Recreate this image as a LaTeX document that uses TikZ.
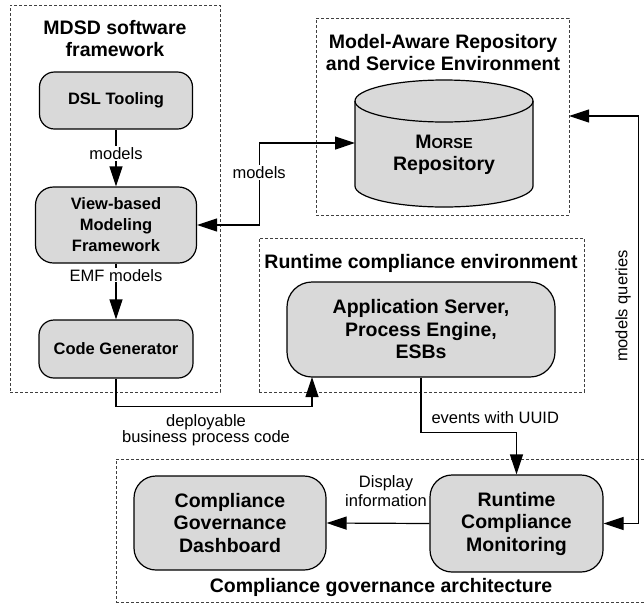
\documentclass[tikz,border=0pt]{standalone}
\usepackage{fontspec}
\setmainfont{Liberation Sans}
\usetikzlibrary{arrows.meta}
\newcommand\figfont{\fontsize{16.5}{22.5}\selectfont}
\newcommand\bigfont{\fontsize{19.5}{22.5}\selectfont}
\tikzset{
  box_/.style   = {shape=rectangle, draw, fill=black!15, line width=1.2pt, rounded corners=15pt, align=center, font=\figfont\bfseries},
  bigbox_/.style = {box_, font=\bigfont\bfseries},
  group_/.style = {shape=rectangle, draw=black!75, dash pattern=on 3pt off 2pt, line width=0.8pt},
  title_/.style = {align=center, font=\bigfont\bfseries},
  lbl_/.style   = {align=center, fill=white, inner sep=1pt},
  arr_/.style   = {draw, line width=1.2pt, -{Triangle[length=20pt,width=13pt]}},
  darr_/.style  = {draw, line width=1.2pt, {Triangle[length=20pt,width=13pt]}-{Triangle[length=20pt,width=13pt]}}
}
\begin{document}
\begin{tikzpicture}
	[
	x = 1pt, y = -1pt,
	every node/.style = {font=\figfont}
	]
	\useasboundingbox (0,0) rectangle (644,603);
	% groups
	\node [group_, minimum width=210pt, minimum height=387pt] (mdsd) at (115,198.5) {};
	\node [group_, minimum width=253pt, minimum height=197pt] (mare) at (442.5,116.5) {};
	\node [group_, minimum width=325pt, minimum height=154pt] (rce) at (421.5,315) {};
	\node [group_, minimum width=540pt, minimum height=143pt] (cga) at (386,530.5) {};
	\node [title_] (mdsdt) at (115,38.5) {MDSD software\\framework};
	\node [title_] (maret) at (443,52.5) {Model-Aware Repository\\and Service Environment};
	\node [title_] (rcet) at (421,263) {Runtime compliance environment};
	\node [title_] (cgat) at (381,587) {Compliance governance architecture};
	% repository cylinder
	\draw [fill=black!15, line width=1.2pt] (355,101) -- (355,186)
		arc [start angle=180, end angle=0, x radius=89, y radius=21] -- (533,101)
		arc [start angle=0, end angle=-180, x radius=89, y radius=21] -- cycle;
	\draw [line width=1.2pt] (355,101) arc [start angle=180, end angle=0, x radius=89, y radius=21];
	\node [title_] (repo) at (444,155) {M{\fontsize{14.5}{14.5}\selectfont ORSE}\\Repository};
	\coordinate (repoin) at (355,143);
	% tools
	\node [box_, minimum width=153pt, minimum height=57pt] (dsl) at (116,100.5) {DSL Tooling};
	\node [box_, minimum width=161pt, minimum height=76pt, rounded corners=18pt] (vmf) at (116,225) {View-based\\[-1.5pt]Modeling\\[-1.5pt]Framework};
	\node [box_, minimum width=154pt, minimum height=58pt] (cg) at (116,349) {Code Generator};
	\node [bigbox_, minimum width=268pt, minimum height=95pt, rounded corners=25pt] (app) at (421,329.5) {Application Server,\\Process Engine,\\ESBs};
	\node [bigbox_, minimum width=192pt, minimum height=94pt, rounded corners=22pt] (cgd) at (230,523) {Compliance\\Governance\\Dashboard};
	\node [bigbox_, minimum width=173pt, minimum height=97pt, rounded corners=22pt] (rcm) at (516.5,523.5) {Runtime\\Compliance\\Monitoring};
	% flows
	\draw [arr_] (dsl.south) -- node [lbl_, pos=0.42] {models} (vmf.north);
	\draw [arr_] (vmf.south) -- node [lbl_, pos=0.21] {EMF models} (cg.north);
	\draw [darr_] (vmf.east) -- ++(62,0) |- node [lbl_, pos=0.32] {models} (repoin);
	\coordinate (appin) at (312,377);
	\draw [arr_] (cg.south) -- ++(0,28) -| (appin);
	\node [align=center, font=\fontsize{16.5}{15}\selectfont] (dep) at (206,430) {deployable\\business process code};
	\draw [arr_] (app.south) -- ++(0,55) -| (rcm.north);
	\node [anchor=west] (evt) at (428,418) {events with UUID};
	\draw [arr_] (rcm.west) -- (cgd.east);
	\node [align=center, font=\fontsize{16.5}{19}\selectfont] (disp) at (386,491) {Display\\information};
	\coordinate (mqin) at (569,116);
	\draw [darr_] (rcm.east) -- ++(35,0) |- (mqin);
	\node [rotate=90] (mq) at (623,306) {models queries};
\end{tikzpicture}
\end{document}
